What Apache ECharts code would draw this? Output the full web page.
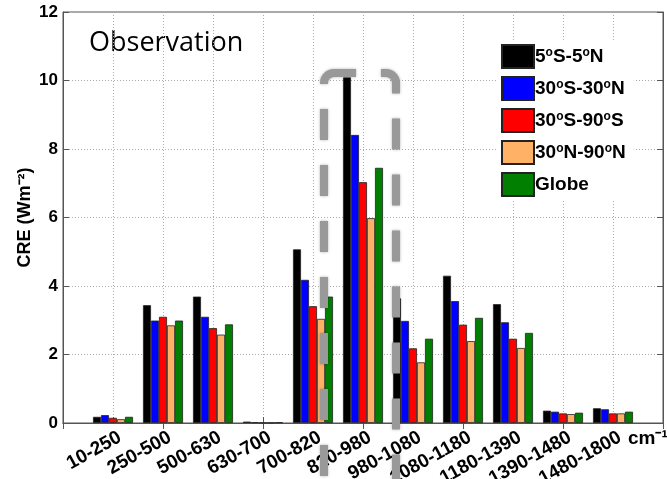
<!DOCTYPE html>
<html><head><meta charset="utf-8">
<script src="https://cdn.jsdelivr.net/npm/echarts@6/dist/echarts.min.js"></script>
<style>html,body{margin:0;padding:0;background:#fff}#c{width:667px;height:479px}</style>
</head><body><div id="c"></div>
<script>
const categories = ['', '10-250', '250-500', '500-630', '630-700', '700-820', '820-980', '980-1080', '1080-1180', '1180-1390', '1390-1480', '1480-1800', ''];
const seriesNames = ['5°S-5°N', '30°S-30°N', '30°S-90°S', '30°N-90°N', 'Globe'];
const tropics5 = ['-', 0.18, 3.44, 3.69, 0.04, 5.07, 10.09, 3.64, 4.30, 3.47, 0.36, 0.43, '-'];
const tropics30 = ['-', 0.23, 2.99, 3.10, 0.02, 4.18, 8.41, 2.98, 3.56, 2.94, 0.33, 0.40, '-'];
const south = ['-', 0.15, 3.10, 2.77, 0.01, 3.41, 7.03, 2.18, 2.87, 2.46, 0.28, 0.28, '-'];
const north = ['-', 0.11, 2.85, 2.58, 0.01, 3.04, 5.98, 1.77, 2.39, 2.19, 0.26, 0.28, '-'];
const globe = ['-', 0.18, 2.99, 2.88, 0.02, 3.69, 7.45, 2.46, 3.07, 2.63, 0.30, 0.33, '-'];
const yTicks = [0, 2, 4, 6, 8, 10, 12];
const colors = ['#000000', '#0000ff', '#ff0000', '#ffb266', '#007f00'];
const values = [tropics5, tropics30, south, north, globe];

const legendRich = {
  a: {fontFamily: 'Liberation Sans', fontWeight: 'bold', fontSize: 19, color: '#000', lineHeight: 20, verticalAlign: 'bottom'},
  s: {fontFamily: 'Liberation Sans', fontWeight: 'bold', fontSize: 12, color: '#000', lineHeight: 20, verticalAlign: 'top'}
};
function legendFmt(name) {
  if (name.indexOf('°') < 0) return '{a|' + name + '}';
  return name.split('°').map((p, i, arr) => '{a|' + p + '}' + (i < arr.length - 1 ? '{s|o}' : '')).join('');
}

const chart = echarts.init(document.getElementById('c'), null, {renderer: 'canvas'});
const gridLine = {show: true, lineStyle: {color: '#aaa', type: [1, 2], width: 1}};
chart.setOption({
  animation: false,
  backgroundColor: '#fff',
  grid: {left: 63, right: 4, top: 12, bottom: 56, show: true, borderColor: '#555', borderWidth: 1,
    containLabel: false, outerBoundsMode: 'none'},
  legend: {
    left: 497, top: 40, orient: 'vertical', itemWidth: 32, itemHeight: 23, itemGap: 7,
    icon: 'rect',
    backgroundColor: '#fff', padding: [4, 8, 4, 4],
    formatter: legendFmt,
    textStyle: {rich: legendRich, padding: [0, 0, 0, -4]},
    data: seriesNames
  },
  xAxis: [{
    type: 'category', data: categories, boundaryGap: false,
    axisLine: {lineStyle: {color: '#555'}},
    axisTick: {inside: true, length: 6, lineStyle: {color: '#555'}},
    splitLine: gridLine,
    axisLabel: {rotate: 29, interval: 0, margin: 17, padding: [0, -8, 0, 0], color: '#000', fontFamily: 'Liberation Sans', fontWeight: 'bold', fontSize: 19}
  }, {
    type: 'category', data: categories, boundaryGap: false, position: 'top',
    axisLine: {lineStyle: {color: '#555'}},
    axisTick: {inside: true, length: 6, lineStyle: {color: '#555'}},
    axisLabel: {show: false}, splitLine: {show: false}
  }],
  yAxis: [{
    type: 'value', min: 0, max: 12, interval: 2,
    name: 'CRE (Wm⁻²)', nameLocation: 'middle', nameGap: 29, nameMoveOverlap: false,
    nameTextStyle: {fontFamily: 'Liberation Sans', fontWeight: 'bold', fontSize: 18, color: '#000'},
    axisLine: {show: true, lineStyle: {color: '#555'}},
    axisTick: {show: true, inside: true, length: 6, lineStyle: {color: '#555'}},
    splitLine: gridLine,
    axisLabel: {margin: 5, color: '#000', fontFamily: 'Liberation Sans', fontWeight: 'bold', fontSize: 17,
      formatter: v => yTicks.indexOf(v) >= 0 ? String(v) : ''}
  }, {
    type: 'value', min: 0, max: 12, interval: 2, position: 'right',
    axisLine: {show: true, lineStyle: {color: '#555'}},
    axisTick: {show: true, inside: true, length: 6, lineStyle: {color: '#555'}},
    axisLabel: {show: false}, splitLine: {show: false}
  }],
  series: seriesNames.map((n, i) => ({
    name: n, type: 'bar', data: values[i], barWidth: 8, barGap: '0%',
    itemStyle: {color: colors[i], borderColor: '#222', borderWidth: 0.8}
  })),
  graphic: [
    {type: 'text', left: 89, top: 30, style: {text: 'Observation', fontFamily: 'Open Sans', fontSize: 27, fill: '#000'}},
    {type: 'text', left: 628, top: 429, style: {text: 'cm⁻¹', fontFamily: 'Liberation Sans', fontWeight: 'bold', fontSize: 19, fill: '#000'}},
    {type: 'rect', z: 100, shape: {x: 324, y: 73, width: 72, height: 444.6, r: 10},
      style: {fill: 'none', stroke: '#999', lineWidth: 8, lineDash: [31, 25], lineDashOffset: 9, shadowBlur: 3, shadowColor: 'rgba(0,0,0,0.3)'}}
  ]
});
</script></body></html>
